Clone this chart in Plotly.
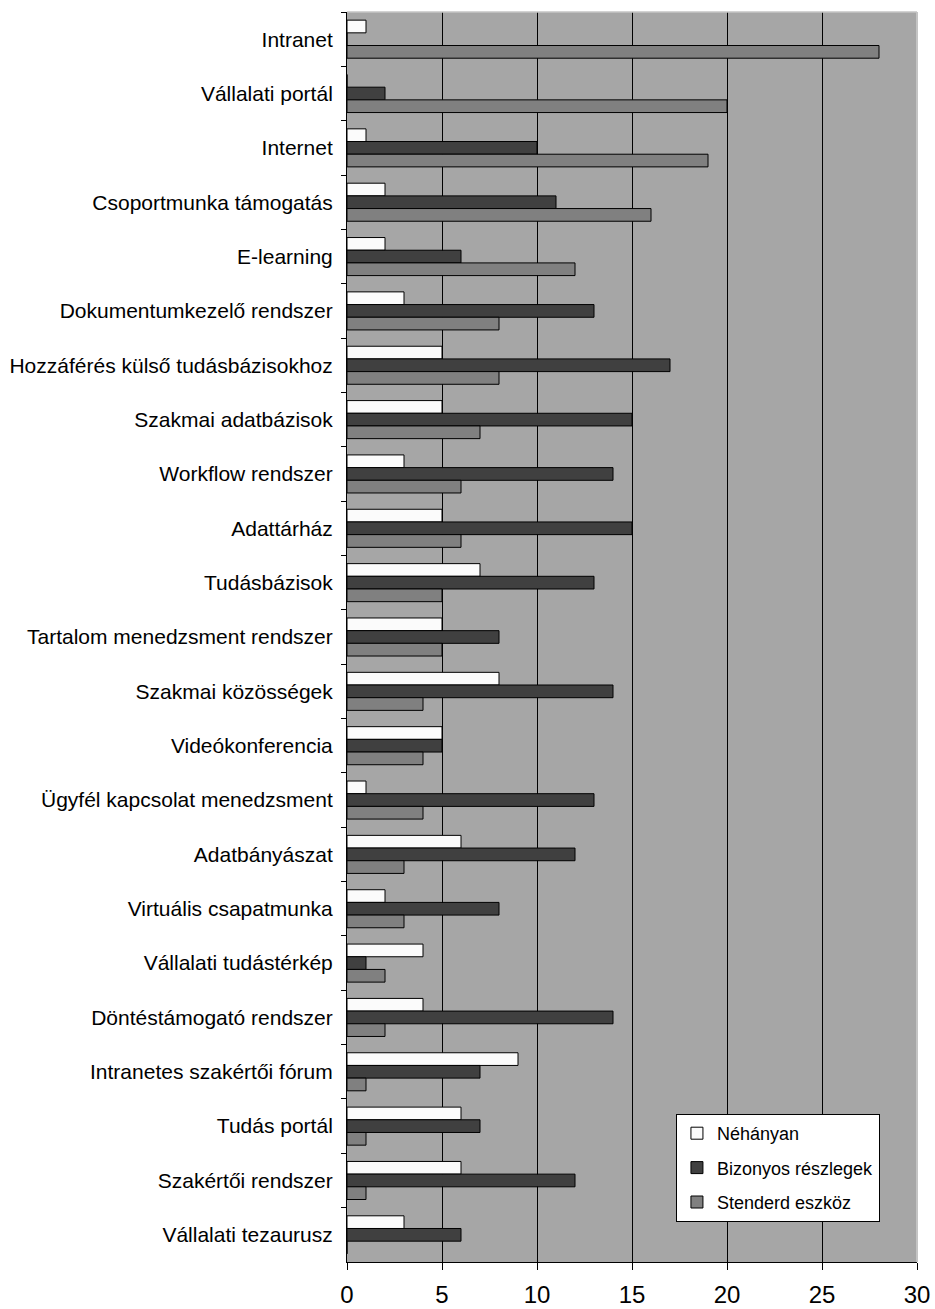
import plotly.graph_objects as go

# Knowledge-management tools, listed top to bottom
tools = [
    "Intranet", "Vállalati portál", "Internet", "Csoportmunka támogatás",
    "E-learning", "Dokumentumkezelő rendszer", "Hozzáférés külső tudásbázisokhoz",
    "Szakmai adatbázisok", "Workflow rendszer", "Adattárház", "Tudásbázisok",
    "Tartalom menedzsment rendszer", "Szakmai közösségek", "Videókonferencia",
    "Ügyfél kapcsolat menedzsment", "Adatbányászat", "Virtuális csapatmunka",
    "Vállalati tudástérkép", "Döntéstámogató rendszer",
    "Intranetes szakértői fórum", "Tudás portál", "Szakértői rendszer",
    "Vállalati tezaurusz",
]

nehanyan = [1, 0, 1, 2, 2, 3, 5, 5, 3, 5, 7, 5, 8, 5, 1, 6, 2, 4, 4, 9, 6, 6, 3]
bizonyos_reszlegek = [0, 2, 10, 11, 6, 13, 17, 15, 14, 15, 13, 8, 14, 5, 13, 12, 8, 1, 14, 7, 7, 12, 6]
stenderd_eszkoz = [28, 20, 19, 16, 12, 8, 8, 7, 6, 6, 5, 5, 4, 4, 4, 3, 3, 2, 2, 1, 1, 1, 0]

series_names = ["Néhányan", "Bizonyos részlegek", "Stenderd eszköz"]
series_values = [nehanyan, bizonyos_reszlegek, stenderd_eszkoz]
series_colors = ["#fbfbfb", "#404040", "#808080"]

x_ticks = [0, 5, 10, 15, 20, 25, 30]

FONT = "Liberation Sans, Arial, sans-serif"

fig = go.Figure()
for i, (name, vals, col) in enumerate(zip(series_names, series_values, series_colors)):
    fig.add_trace(go.Bar(
        y=tools, x=vals, name=name, orientation="h",
        marker=dict(color=col, line=dict(color="#000000", width=1)),
        legendgroup=f"g{i}",
    ))

fig.update_layout(
    width=935, height=1309,
    margin=dict(l=347, r=18, t=12, b=47, pad=0, autoexpand=False),
    paper_bgcolor="#ffffff",
    plot_bgcolor="#a6a6a6",
    barmode="group",
    bargap=0.30,
    bargroupgap=0,
    font=dict(family=FONT, color="#000000"),
    showlegend=True,
    legend=dict(
        x=0.935, xanchor="right", y=0.032, yanchor="bottom",
        bgcolor="#ffffff", bordercolor="#000000", borderwidth=1,
        font=dict(family=FONT, size=18, color="#000000"),
        itemwidth=30, tracegroupgap=8,
    ),
    xaxis=dict(
        range=[0, 30], tickvals=x_ticks, ticktext=[str(v) for v in x_ticks],
        showgrid=True, gridcolor="#000000", gridwidth=1,
        showline=True, linecolor="#000000", linewidth=1,
        ticks="outside", ticklen=7, tickcolor="#000000",
        tickfont=dict(family=FONT, size=24, color="#000000"),
        ticklabelstandoff=4, automargin=False,
        zeroline=False, fixedrange=True,
    ),
    yaxis=dict(
        type="category", autorange="reversed",
        showline=True, linecolor="#000000", linewidth=1,
        ticks="outside", tickson="boundaries", ticklen=5, tickcolor="#000000",
        tickfont=dict(family=FONT, size=21, color="#000000"),
        ticklabelstandoff=9, automargin=False,
        showgrid=False, zeroline=False, fixedrange=True,
    ),
    shapes=[
        # light frame along the top and right of the plotting area
        dict(type="line", xref="paper", yref="paper", x0=0, x1=1, y0=1, y1=1,
             line=dict(color="#c4c4c4", width=1.5), layer="above"),
        dict(type="line", xref="paper", yref="paper", x0=1, x1=1, y0=0, y1=1,
             line=dict(color="#c4c4c4", width=2), layer="above"),
    ],
)

fig.write_html("out.html")
